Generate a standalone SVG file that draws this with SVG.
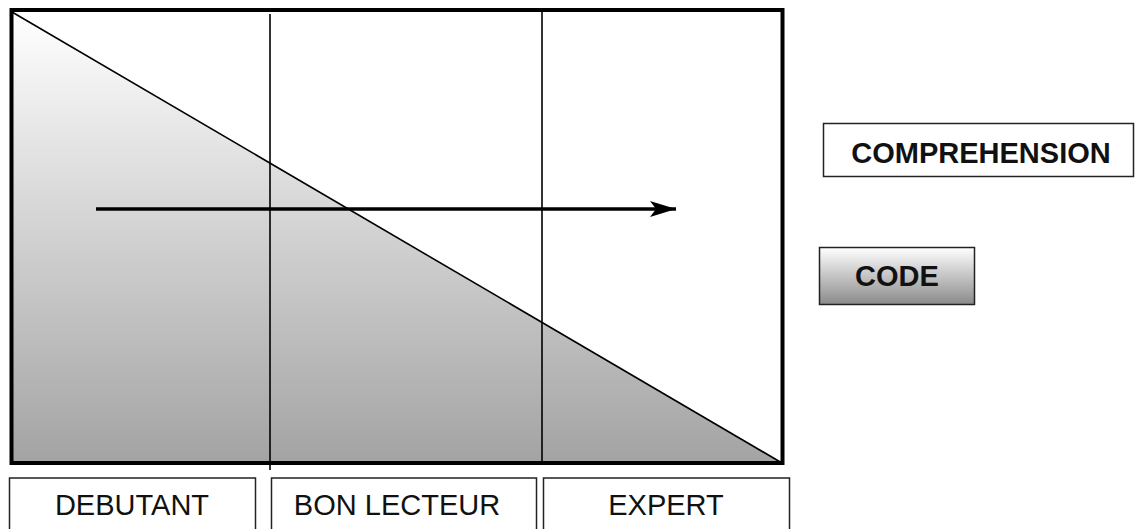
<svg xmlns="http://www.w3.org/2000/svg" width="1137" height="529" viewBox="0 0 1137 529">
<defs>
<linearGradient id="tri" x1="0" y1="0" x2="0" y2="1">
<stop offset="0" stop-color="#ffffff"/>
<stop offset="1" stop-color="#a3a3a3"/>
</linearGradient>
<linearGradient id="btn" x1="0" y1="0" x2="0" y2="1">
<stop offset="0" stop-color="#ffffff"/>
<stop offset="1" stop-color="#8a8a8a"/>
</linearGradient>
<marker id="arr" markerUnits="userSpaceOnUse" markerWidth="30" markerHeight="20" refX="26" refY="8" orient="auto">
<path d="M0,0 L26,8 L0,16 L6,8 Z" fill="#000"/>
</marker>
<style>
.lbl{font-family:"Liberation Sans",Arial,sans-serif;font-size:29px;fill:#111;text-anchor:middle}
.bold{font-weight:bold}
.box{fill:#fff;stroke:#222;stroke-width:1.5}
.ln{stroke:#000;stroke-width:1.6;fill:none}
</style>
</defs>
<rect width="1137" height="529" fill="#fff"/>
<g id="chart">
<polygon points="12,12 782,463 12,463" fill="url(#tri)"/>
<line class="ln" x1="12" y1="12" x2="782" y2="463"/>
<line class="ln" x1="270" y1="14" x2="270" y2="470"/>
<line class="ln" x1="542" y1="10" x2="542" y2="463"/>
<rect x="11.5" y="10" width="771" height="453" fill="none" stroke="#000" stroke-width="4"/>
</g>
<g id="connectors">
<line x1="96" y1="209" x2="676" y2="209" stroke="#000" stroke-width="3.5" marker-end="url(#arr)"/>
</g>
<g id="debutant">
<rect class="box" x="9.5" y="478" width="246" height="60"/>
<text class="lbl" x="132" y="515">DEBUTANT</text>
</g>
<g id="bon-lecteur">
<rect class="box" x="271.5" y="478" width="265" height="60"/>
<text class="lbl" x="397" y="515">BON LECTEUR</text>
</g>
<g id="expert">
<rect class="box" x="543.5" y="478" width="246" height="60"/>
<text class="lbl" x="666" y="515">EXPERT</text>
</g>
<g id="comprehension">
<rect class="box" x="823.5" y="123.5" width="310" height="53"/>
<text class="lbl bold" x="981" y="163">COMPREHENSION</text>
</g>
<g id="code">
<rect x="819.5" y="247.5" width="155" height="57" fill="url(#btn)" stroke="#222" stroke-width="1.5"/>
<text class="lbl bold" x="897" y="286">CODE</text>
</g>
</svg>
